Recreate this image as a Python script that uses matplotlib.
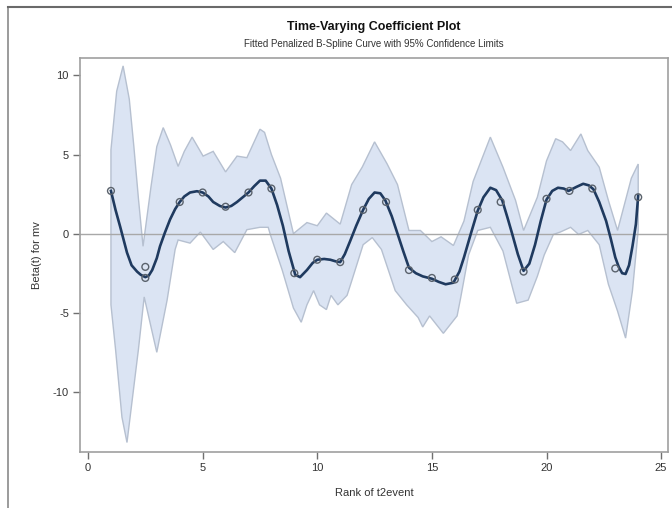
import matplotlib
matplotlib.use("Agg")
import matplotlib.pyplot as plt
import numpy as np
from matplotlib.lines import Line2D

plt.rcParams['font.family'] = ['Liberation Sans', 'DejaVu Sans']
plt.rcParams['axes.unicode_minus'] = False

# Observed (rank, beta) points
obs_x = [1, 2.5, 2.5, 4, 5, 6, 7, 8, 9, 10, 11, 12, 13, 14, 15, 16, 17, 18, 19, 20, 21, 22, 23, 24]
obs_y = [2.7, -2.1, -2.8, 2.0, 2.6, 1.7, 2.6, 2.85, -2.5, -1.65, -1.8, 1.5, 2.0, -2.3, -2.8, -2.9,
         1.5, 2.0, -2.4, 2.2, 2.7, 2.85, -2.2, 2.3]

# Fitted penalized B-spline curve
fit_x = [1.0, 1.2, 1.4, 1.7, 1.9, 2.14, 2.3, 2.5, 2.65, 2.8, 3.0, 3.14, 3.35, 3.58, 3.8, 4.0, 4.2, 4.45,
         4.75, 5.0, 5.25, 5.46, 5.75, 6.0, 6.25, 6.5, 6.75, 7.0, 7.25, 7.5, 7.75, 8.0, 8.25, 8.5, 8.75,
         9.04, 9.25, 9.55, 9.8, 10.0, 10.3, 10.57, 10.8, 11.0, 11.2, 11.44, 11.7, 12.0, 12.25, 12.5,
         12.75, 12.97, 13.25, 13.5, 13.75, 14.0, 14.3, 14.6, 15.0, 15.3, 15.6, 15.94, 16.2, 16.4, 16.7,
         17.0, 17.25, 17.55, 17.8, 18.07, 18.3, 18.5, 18.75, 19.0, 19.25, 19.5, 19.75, 20.0, 20.25,
         20.5, 20.75, 20.96, 21.3, 21.6, 21.85, 22.05, 22.3, 22.6, 22.8, 23.0, 23.15, 23.3, 23.45,
         23.6, 23.75, 23.9, 24.0]
fit_y = [2.7, 1.5, 0.45, -1.2, -2.0, -2.4, -2.6, -2.75, -2.65, -2.3, -1.55, -0.8, 0.05, 0.9, 1.55,
         2.0, 2.35, 2.6, 2.68, 2.6, 2.35, 2.0, 1.75, 1.65, 1.75, 2.0, 2.3, 2.6, 3.0, 3.35, 3.35, 2.85,
         1.8, 0.5, -1.1, -2.6, -2.75, -2.3, -1.85, -1.65, -1.6, -1.65, -1.75, -1.8, -1.3, -0.45, 0.5,
         1.5, 2.2, 2.6, 2.55, 2.1, 1.1, 0.0, -1.1, -2.15, -2.5, -2.7, -2.85, -3.05, -3.2, -3.1, -2.4,
         -1.5, 0.0, 1.45, 2.3, 2.9, 2.75, 2.1, 1.0, 0.0, -1.3, -2.35, -1.9, -0.7, 0.8, 2.15, 2.7, 2.9,
         2.85, 2.7, 2.95, 3.15, 3.05, 2.8, 2.0, 0.8, -0.3, -1.5, -2.1, -2.5, -2.55, -2.0, -0.8, 0.6, 2.4]

# Upper 95% confidence limit
upper_x = [1.0, 1.25, 1.53, 1.8, 2.0, 2.2, 2.4, 2.75, 3.0, 3.28, 3.6, 3.93, 4.2, 4.54, 5.02, 5.46,
           6.0, 6.5, 6.93, 7.5, 7.7, 8.0, 8.4, 8.96, 9.55, 10.0, 10.4, 11.0, 11.5, 11.96, 12.5, 13.05,
           13.5, 14.0, 14.5, 15.0, 15.4, 15.94, 16.4, 16.8, 17.55, 18.1, 18.65, 19.0, 19.6, 20.0, 20.4,
           20.7, 21.05, 21.5, 21.8, 22.3, 22.7, 23.1, 23.4, 23.7, 24.0]
upper_y = [5.3, 9.0, 10.6, 8.5, 5.5, 2.2, -0.8, 3.0, 5.5, 6.7, 5.6, 4.25, 5.2, 6.1, 4.9, 5.2,
           3.9, 4.9, 4.8, 6.6, 6.4, 5.0, 3.5, 0.0, 0.7, 0.5, 1.3, 0.6, 3.1, 4.2, 5.8, 4.4,
           3.1, 0.2, 0.2, -0.5, -0.2, -0.75, 0.8, 3.3, 6.1, 4.2, 2.1, 0.2, 2.3, 4.6, 6.0,
           5.8, 5.25, 6.3, 5.25, 4.2, 2.1, 0.2, 1.85, 3.5, 4.4]

# Lower 95% confidence limit
lower_x = [1.0, 1.2, 1.48, 1.7, 2.2, 2.45, 3.0, 3.45, 3.8, 3.93, 4.45, 4.9, 5.46, 5.9, 6.4, 6.93,
           7.5, 7.86, 7.95, 8.47, 8.96, 9.3, 9.55, 9.84, 10.1, 10.4, 10.6, 10.9, 11.3, 11.5, 12.0,
           12.4, 12.8, 13.4, 13.9, 14.4, 14.6, 14.9, 15.5, 16.1, 16.25, 16.6, 17.0, 17.55, 18.1,
           18.55, 18.7, 19.2, 19.6, 19.9, 20.3, 20.6, 21.05, 21.4, 21.8, 22.3, 22.7, 23.1, 23.45,
           23.75, 24.0]
lower_y = [-4.5, -7.3, -11.6, -13.2, -7.3, -4.0, -7.5, -4.2, -1.0, -0.4, -0.6, 0.1, -1.0, -0.5, -1.2,
           0.25, 0.4, 0.4, -0.05, -2.3, -4.7, -5.6, -4.5, -3.6, -4.5, -4.8, -3.9, -4.5, -3.9, -3.0,
           -0.7, -0.25, -1.0, -3.6, -4.5, -5.3, -5.9, -5.2, -6.3, -5.2, -4.1, -1.35, 0.2, 0.4, -1.1,
           -3.6, -4.4, -4.2, -2.7, -1.35, -0.05, 0.1, 0.4, -0.05, 0.2, -0.7, -3.2, -4.9, -6.6,
           -3.6, 0.2]

x_ticks = [0, 5, 10, 15, 20, 25]
y_ticks = [-10, -5, 0, 5, 10]

fig = plt.figure(figsize=(6.72, 5.08), dpi=100)
ax = fig.add_axes([80/672, 1-452/508, (668-80)/672, (452-58)/508])

# confidence band
poly_x = list(upper_x) + list(lower_x[::-1])
poly_y = list(upper_y) + list(lower_y[::-1])
ax.fill(poly_x, poly_y, facecolor='#dbe4f3', edgecolor='#b6c0d0', linewidth=1.0, zorder=1)

ax.axhline(0, color='#a8a8a8', linewidth=1.0, zorder=2)

ax.plot(fit_x, fit_y, color='#1f3a5f', linewidth=1.9, zorder=3, solid_joinstyle='round')
ax.scatter(obs_x, obs_y, s=24, facecolors='none', edgecolors='#5a626c', linewidths=1.0, zorder=4)

ax.set_xlim(-0.35, 25.3)
ax.set_ylim(-13.8, 11.1)
ax.set_xticks(x_ticks)
ax.set_yticks(y_ticks)
ax.tick_params(axis='both', direction='out', length=5, width=1, color='#707070',
               labelsize=8, labelcolor='#333333', pad=3)
for s in ax.spines.values():
    s.set_color('#a0a0a0')
    s.set_linewidth(1.2)

ax.set_xlabel('Rank of t2event', fontsize=8, color='#333333', labelpad=11)
ax.set_ylabel('Beta(t) for mv', fontsize=8, color='#333333', labelpad=8)

fig.text((80+668)/2/672, 1-27/508, 'Time-Varying Coefficient Plot', ha='center', va='center',
         fontsize=9, fontweight='bold', color='#111111')
fig.text((80+668)/2/672, 1-44/508, 'Fitted Penalized B-Spline Curve with 95% Confidence Limits',
         ha='center', va='center', fontsize=7, color='#333333')

# outer border of the graph image
fig.add_artist(Line2D([8/672, 8/672], [0, 1-7/508], transform=fig.transFigure, color='#8a8a8a', linewidth=1.2))
fig.add_artist(Line2D([8/672, 1], [1-7/508, 1-7/508], transform=fig.transFigure, color='#6a6a6a', linewidth=1.5))

fig.savefig('out.png', dpi=100)
